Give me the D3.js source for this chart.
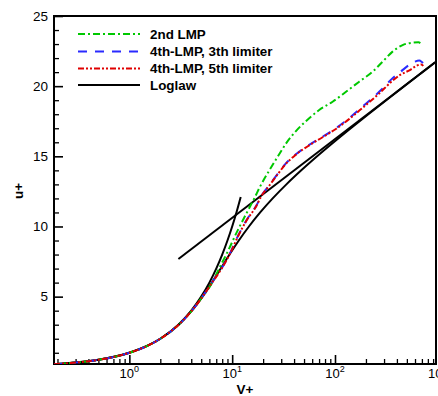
<!DOCTYPE html>
<html><head><meta charset="utf-8">
<script src="https://cdn.jsdelivr.net/npm/d3@7"></script>
<style>body{margin:0;background:#fff}svg{display:block;font-family:"Liberation Sans",Arial,sans-serif}</style>
</head><body><svg id="c" width="438" height="396"></svg>
<script>
// ---- data ----
const xDomain = [0.185, 960];
const yDomain = [0.2, 25];
const yMajorTicks = [5, 10, 15, 20, 25];
const xMajorTicks = [1, 10, 100];
const xTickExponents = ["0", "1", "2", "3"];
const legendLabels = ["2nd LMP", "4th-LMP, 3th limiter", "4th-LMP, 5th limiter", "Loglaw"];

const greenYp = [0.185,0.3,0.5,0.7,1,1.5,2,3,4,5,6.32,7.33,9.17,11.1,13.8,16.4,19.0,23.0,27.7,33.3,41.7,52.1,70.2,94.8,128,172,232,290,363,454,568,649,676];
const greenU  = [0.185,0.3,0.5,0.7,1,1.5,2,2.98,3.95,4.88,5.94,6.89,8.3,9.6,10.95,12.0,12.95,14.0,14.97,15.9,16.8,17.5,18.3,18.89,19.6,20.32,21.03,21.74,22.46,22.93,23.1,23.13,23.07];

const blueYp = [0.185,0.3,0.5,0.7,1,1.5,2,3,4,5,6.55,7.9,9.52,11.5,13.8,17.3,19.0,23.0,27.7,33.3,41.7,56.1,75.7,102,137,185,269,363,430,526,600,660,700,736];
const blueU  = [0.185,0.3,0.5,0.7,1,1.5,2,2.98,3.95,4.88,6.15,7.02,8.09,9.39,10.46,11.53,12.12,12.95,13.75,14.5,15.15,15.81,16.40,17.0,17.71,18.54,19.6,20.56,21.0,21.51,21.75,21.82,21.72,21.58];

const redYp = [0.185,0.3,0.5,0.7,1,1.5,2,3,4,5,6.55,7.9,9.52,11.5,13.8,17.3,19.0,23.0,27.7,33.3,41.7,56.1,75.7,102,137,185,269,363,430,535,620,690,722];
const redU  = [0.185,0.3,0.5,0.7,1,1.5,2,2.98,3.95,4.88,6.12,7.0,8.06,9.36,10.43,11.5,12.1,12.92,13.72,14.47,15.12,15.78,16.36,16.95,17.65,18.45,19.48,20.39,20.8,21.15,21.45,21.55,21.44];

const linYp = [0.185,0.3,0.5,0.7,1,1.5,2,3,4,5,6,7,8,9,10,11,12.1];
const linU  = [0.185,0.3,0.5,0.7,1,1.5,2,3,4,5,6,7,8,9,10,11,12.1];
const logYp = [3, 960];
const logU  = [7.68, 21.74];
const spalYp = [0.185,0.5,1,2,3.016,4.056,5.152,6.352,7.735,9.42,11.6,14.55,18.72,24.76,33.67,46.98,66.98,97.1,142.5,211.1,314.8,471.3,707.6,941];
const spalU  = [0.185,0.5,1,2,3,4,5,6,7,8,9,10,11,12,13,14,15,16,17,18,19,20,21,21.7];

// ---- layout ----
const L = 54, R = 436, T = 16, B = 364;
const svg = d3.select("#c");
const x = d3.scaleLog().domain(xDomain).range([L, R]);
const y = d3.scaleLinear().domain(yDomain).range([B, T]);

svg.append("defs").append("clipPath").attr("id","clip")
  .append("rect").attr("x",L).attr("y",T).attr("width",R-L).attr("height",B-T);

// minor ticks
const yMinor = d3.range(1, 26).filter(v => !yMajorTicks.includes(v));
const xMinor = [];
[0.1, 1, 10, 100].forEach(d => { for (let k = 2; k <= 9; k++) { const v = k*d; if (v >= xDomain[0] && v <= xDomain[1]) xMinor.push(v); } });

const gy = svg.append("g").attr("transform", `translate(${L},0)`)
  .call(d3.axisLeft(y).tickValues(yMajorTicks).tickSizeInner(-9).tickSizeOuter(0).tickPadding(6));
gy.select(".domain").remove();
gy.selectAll("line").attr("stroke","#000").attr("stroke-width",1.6);
gy.selectAll("text").attr("font-size","13.5px").attr("fill","#000").attr("font-family","Liberation Sans, Arial, sans-serif");

const gym = svg.append("g").attr("transform", `translate(${L},0)`)
  .call(d3.axisLeft(y).tickValues(yMinor).tickSizeInner(-5).tickSizeOuter(0).tickFormat(""));
gym.select(".domain").remove();
gym.selectAll("line").attr("stroke","#000").attr("stroke-width",1.3);

const gx = svg.append("g").attr("transform", `translate(0,${B})`)
  .call(d3.axisBottom(x).tickValues(xMajorTicks).tickSizeInner(-9).tickSizeOuter(0).tickFormat(""));
gx.select(".domain").remove();
gx.selectAll("line").attr("stroke","#000").attr("stroke-width",1.6);

const gxm = svg.append("g").attr("transform", `translate(0,${B})`)
  .call(d3.axisBottom(x).tickValues(xMinor).tickSizeInner(-5).tickSizeOuter(0).tickFormat(""));
gxm.select(".domain").remove();
gxm.selectAll("line").attr("stroke","#000").attr("stroke-width",1.3);

// x tick labels with superscripts (the last one is cut by the edge, as in the original)
[1, 10, 100, 1000].forEach((v, i) => {
  const t = svg.append("text").attr("x", x(v)).attr("y", 378)
    .attr("text-anchor","middle").attr("font-size","13px").attr("fill","#000");
  t.append("tspan").text("10");
  t.append("tspan").attr("dy", -6).attr("font-size","9px").text(xTickExponents[i]);
});

// frame
svg.append("rect").attr("x",L).attr("y",T).attr("width",R-L).attr("height",B-T)
  .attr("fill","none").attr("stroke","#000").attr("stroke-width",2);

// curves
const mk = (xs, ys) => xs.map((v, i) => [v, ys[i]]);
const line = d3.line().x(d => x(d[0])).y(d => y(d[1])).curve(d3.curveMonotoneX);
const plot = svg.append("g").attr("clip-path","url(#clip)");
const blk = "#000";
[mk(linYp, linU), mk(logYp, logU), mk(spalYp, spalU)].forEach(d => {
  plot.append("path").attr("d", line(d)).attr("fill","none").attr("stroke",blk).attr("stroke-width",2);
});
const series = [
  {d: mk(greenYp, greenU), c: "#00c800", dash: "7,3,2,3"},
  {d: mk(blueYp, blueU),  c: "#2a2aff", dash: "9,8"},
  {d: mk(redYp, redU),    c: "#e00000", dash: "6,2,2,2,2,2"}
];
series.forEach(s => {
  plot.append("path").attr("d", line(s.d)).attr("fill","none").attr("stroke",s.c)
    .attr("stroke-width",2).attr("stroke-dasharray",s.dash);
});

// legend
const legStyles = [
  {c:"#00c800", dash:"7,3,2,3"},
  {c:"#2a2aff", dash:"9,8"},
  {c:"#e00000", dash:"6,2,2,2,2,2"},
  {c:"#000", dash:null}
];
const legY = [34, 51.5, 68.5, 85];
legendLabels.forEach((lab, i) => {
  const ln = svg.append("line").attr("x1",78).attr("x2",140).attr("y1",legY[i]).attr("y2",legY[i])
    .attr("stroke",legStyles[i].c).attr("stroke-width",2);
  if (legStyles[i].dash) ln.attr("stroke-dasharray",legStyles[i].dash);
  svg.append("text").attr("x",150).attr("y",legY[i]+4.8).attr("font-size","13.4px")
    .attr("font-weight","bold").attr("fill","#000").text(lab);
});

// axis titles
svg.append("text").attr("x",245).attr("y",394).attr("text-anchor","middle")
  .attr("font-size","13.5px").attr("font-weight","bold").text("V+");
svg.append("text").attr("transform","translate(23,191) rotate(-90)").attr("text-anchor","middle")
  .attr("font-size","13.5px").attr("font-weight","bold").text("u+");
</script>
</body></html>
